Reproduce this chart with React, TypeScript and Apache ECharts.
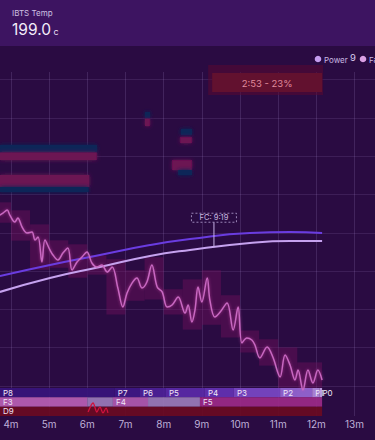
import React, { useEffect, useRef } from "react";
import * as echarts from "echarts";

// ---------- data ----------
const xTicks = [4, 5, 6, 7, 8, 9, 10, 11, 12, 13];
const yTicks = [0, 25, 50, 75, 100, 125, 150, 175, 200];
const X_MIN = 3.712;
const X_MAX = 13.536;
const Y_MIN = -19.6;
const Y_MAX = 205;

// smooth upper (blue-violet) curve
const envTimes = [3.71, 5.02, 6.33, 7.64, 8.69, 10.26, 11.31, 12.15];
const envValues = [71.8, 79.0, 85.5, 92.0, 95.9, 99.9, 100.5, 99.9];
// smooth lower (lavender) curve
const beanTimes = [3.71, 5.02, 6.33, 7.64, 8.69, 10.26, 11.31, 12.15];
const beanValues = [61.4, 70.5, 77.7, 84.9, 88.8, 93.3, 94.6, 94.6];
// jagged pink curve
const rorTimes = [3.71, 3.79, 3.9, 3.97, 4.1, 4.18, 4.29, 4.42, 4.55, 4.63, 4.71, 4.81, 4.89, 5.02, 5.1, 5.23, 5.36, 5.49, 5.6, 5.73, 5.86, 5.99, 6.12, 6.25, 6.38, 6.52, 6.65, 6.8, 6.93, 7.04, 7.17, 7.3, 7.43, 7.56, 7.69, 7.83, 7.96, 8.09, 8.22, 8.38, 8.56, 8.64, 8.74, 8.82, 8.9, 9.0, 9.14, 9.21, 9.34, 9.48, 9.66, 9.82, 9.95, 10.05, 10.18, 10.31, 10.39, 10.52, 10.71, 10.86, 11.05, 11.18, 11.31, 11.44, 11.52, 11.65, 11.78, 11.91, 12.04, 12.15];
const rorValues = [111.6, 112.9, 114.9, 111.6, 107.0, 109.7, 103.8, 99.9, 100.5, 95.3, 97.3, 80.9, 95.3, 88.8, 85.5, 82.2, 86.8, 90.1, 75.7, 80.9, 84.2, 87.5, 80.3, 77.7, 79.0, 74.4, 77.7, 64.0, 51.6, 60.7, 67.2, 70.5, 64.0, 67.9, 79.0, 64.6, 61.4, 51.6, 52.9, 58.1, 47.6, 52.9, 41.8, 49.6, 64.6, 54.8, 70.5, 56.1, 45.0, 48.3, 54.2, 36.6, 51.6, 28.1, 31.3, 30.0, 26.8, 18.3, 25.5, 18.9, 5.9, 20.2, 13.7, 3.9, 10.4, -2.6, 10.4, 2.0, 10.4, 3.9];
// short red trace near the drum row
const redTimes = [6.02, 6.15, 6.25, 6.33, 6.41, 6.49, 6.54];
const redValues = [-17.0, -11.1, -17.0, -13.7, -17.6, -14.4, -17.6];

// first crack
const fcTime = 9.317;
const fcLabel = "FC: 9:19";
// development window
const devStart = 9.27;
const devEnd = 12.15;
const devLabel = "2:53 - 23%";

// blurred stripes: [start, end, top, bottom, kind]
const stripeStarts = [3.712, 3.712, 3.712, 3.712, 7.51, 7.51, 8.45, 8.43, 8.22, 8.38];
const stripeEnds = [6.25, 6.25, 6.05, 6.03, 7.64, 7.64, 8.74, 8.74, 8.74, 8.74];
const stripeTops = [157.3, 152.4, 137.7, 129.9, 178.9, 174.5, 167.8, 162.5, 147.5, 141.0];
const stripeBottoms = [152.4, 147.5, 129.9, 126.6, 174.9, 169.7, 163.8, 158.6, 141.0, 137.7];
const stripeKinds = ["teal", "mag", "mag", "teal", "teal", "mag", "teal", "mag", "mag", "teal"];

// phase rows
const phaseRows = ["P", "F", "D"];
const bandLabels = ["P8", "P7", "P6", "P5", "P4", "P3", "P2", "P1", "P0", "F3", "", "F4", "", "F5", "D9"];
const bandRows = [0, 0, 0, 0, 0, 0, 0, 0, 0, 1, 1, 1, 1, 1, 2];
const bandStarts = [3.712, 6.72, 7.38, 8.06, 9.08, 9.84, 11.05, 11.89, 12.08, 3.712, 6.0, 6.67, 7.59, 8.95, 3.712];
const bandEnds = [6.72, 7.38, 8.06, 9.08, 9.84, 11.05, 11.89, 12.08, 12.15, 6.0, 6.67, 7.59, 8.95, 12.15, 12.15];

// legend
const legendNames = ["Power", "Fan"];
const powerLevel = "9";

// header
const headerTitle = "IBTS Temp";
const headerValue = "199.0";
const headerUnit = "c";

// ---------- styles ----------
const FONT = "Inter, 'Noto Sans', sans-serif";
const BG = "#2a0b42";
const HEADER = "#3d1461";
const bandColors: Record<string, string> = {
  P8: "#38157c", P7: "#3e1886", P6: "#4d2298", P5: "#5a2aa8", P4: "#6432b4",
  P3: "#7a48c6", P2: "#9566d4", P1: "#b08ade", P0: "#c4a4e8",
  F3: "#b860b4", "": "#9a7cba", F4: "#b05ab0", F5: "#9c2a88", D9: "#6a0b22",
};
const stripeColors: Record<string, string> = { teal: "#0e2858", mag: "#6c1253" };

function App() {
  const ref = useRef<HTMLDivElement>(null);
  useEffect(() => {
    if (!ref.current) return;
    const chart = echarts.init(ref.current, undefined, { renderer: "svg" });

    const env = envTimes.map((t, i) => [t, envValues[i]]);
    const bean = beanTimes.map((t, i) => [t, beanValues[i]]);
    const ror = rorTimes.map((t, i) => [t, rorValues[i]]);
    const red = redTimes.map((t, i) => [t, redValues[i]]);

    // glow blocks derived from the jagged curve (0.5 min buckets)
    const blocks: number[][] = [];
    for (let b = 3.5; b < 12.2; b += 0.5) {
      const vals = rorTimes
        .map((t, i) => (t >= b && t < b + 0.5 ? rorValues[i] : null))
        .filter((v) => v !== null) as number[];
      if (vals.length) {
        blocks.push([Math.max(b, X_MIN), Math.min(b + 0.5, 12.15), Math.max(...vals) + 5, Math.min(...vals) - 5]);
      }
    }

    const stripes = stripeStarts.map((s, i) => [s, stripeEnds[i], stripeTops[i], stripeBottoms[i], i]);
    const bands = bandStarts.map((s, i) => [s, bandEnds[i], bandRows[i], i]);

    // bean value at FC (linear interpolation of read points)
    let fcVal = beanValues[0];
    for (let i = 0; i < beanTimes.length - 1; i++) {
      if (fcTime >= beanTimes[i] && fcTime <= beanTimes[i + 1]) {
        const f = (fcTime - beanTimes[i]) / (beanTimes[i + 1] - beanTimes[i]);
        fcVal = beanValues[i] + f * (beanValues[i + 1] - beanValues[i]);
      }
    }

    const option: any = {
      animation: false,
      backgroundColor: BG,
      textStyle: { fontFamily: FONT },
      grid: [
        { left: 0, right: 0, top: 72, bottom: 24 },
        { left: 0, right: 0, top: 388, bottom: 24 },
      ],
      xAxis: [
        {
          gridIndex: 0, type: "value", min: X_MIN, max: X_MAX,
          axisLine: { show: false },
          axisTick: { show: false, customValues: xTicks },
          axisLabel: {
            customValues: xTicks, formatter: (v: number) => v + "m",
            color: "#bfb0d8", fontSize: 10, margin: 3, fontFamily: FONT,
          },
          splitLine: { show: true, lineStyle: { color: "rgba(190,160,230,0.17)", width: 1 } },
        },
        { gridIndex: 1, type: "value", min: X_MIN, max: X_MAX, show: false },
      ],
      yAxis: [
        {
          gridIndex: 0, type: "value", min: Y_MIN, max: Y_MAX,
          axisLine: { show: false },
          axisLabel: { show: false },
          axisTick: { show: false, customValues: yTicks },
          splitLine: { show: true, lineStyle: { color: "rgba(190,160,230,0.13)", width: 1 } },
        },
        { gridIndex: 1, type: "category", data: phaseRows, inverse: true, show: false },
      ],
      series: [
        {
          type: "custom", name: "stripes", xAxisIndex: 0, yAxisIndex: 0, z: 1,
          data: stripes,
          renderItem: (params: any, api: any) => {
            const a = api.coord([api.value(0), api.value(2)]);
            const b = api.coord([api.value(1), api.value(3)]);
            const kind = stripeKinds[params.dataIndex];
            return {
              type: "rect",
              shape: { x: a[0], y: a[1], width: b[0] - a[0], height: b[1] - a[1] },
              style: { fill: stripeColors[kind], shadowBlur: 4, shadowColor: stripeColors[kind] },
            };
          },
        },
        {
          type: "custom", name: "devbox", xAxisIndex: 0, yAxisIndex: 0, z: 1, clip: false,
          data: [[devStart, devEnd]],
          renderItem: (params: any, api: any) => {
            const a = api.coord([api.value(0), Y_MAX]);
            const b = api.coord([api.value(1), Y_MAX]);
            return {
              type: "group",
              children: [
                { type: "rect", shape: { x: a[0] - 4, y: a[1] - 7, width: b[0] - a[0] + 5, height: 30 }, style: { fill: "rgba(90,10,50,0.55)" } },
                { type: "rect", shape: { x: a[0], y: a[1] + 1, width: b[0] - a[0], height: 19 }, style: { fill: "#62112f" } },
                {
                  type: "text",
                  style: {
                    text: devLabel, x: (a[0] + b[0]) / 2, y: a[1] + 11, align: "center", verticalAlign: "middle",
                    fill: "#e08a9c", fontSize: 9.5, fontFamily: FONT,
                  },
                },
              ],
            };
          },
        },
        {
          type: "custom", name: "glow", xAxisIndex: 0, yAxisIndex: 0, z: 2,
          data: blocks,
          renderItem: (params: any, api: any) => {
            const a = api.coord([api.value(0), api.value(2)]);
            const b = api.coord([api.value(1), api.value(3)]);
            return {
              type: "rect",
              shape: { x: a[0], y: a[1], width: b[0] - a[0], height: b[1] - a[1] },
              style: { fill: "rgba(120,18,96,0.4)" },
            };
          },
        },
        {
          type: "custom", name: "phases", xAxisIndex: 1, yAxisIndex: 1, z: 3,
          data: bands,
          renderItem: (params: any, api: any) => {
            const s = api.coord([api.value(0), api.value(2)]);
            const e = api.coord([api.value(1), api.value(2)]);
            const h = api.size([0, 1])[1];
            const lab = bandLabels[params.dataIndex];
            return {
              type: "group",
              children: [
                { type: "rect", shape: { x: s[0], y: s[1] - h / 2, width: e[0] - s[0], height: h }, style: { fill: bandColors[lab], opacity: 0.92 } },
                {
                  type: "text",
                  style: {
                    text: lab, x: Math.max(s[0], 0) + 3, y: s[1], verticalAlign: "middle",
                    fill: "#f0e6f8", fontSize: 8, fontFamily: FONT,
                  },
                },
              ],
            };
          },
        },
        {
          type: "line", name: "Env", xAxisIndex: 0, yAxisIndex: 0, z: 4, data: env, smooth: true, symbol: "none",
          lineStyle: { color: "#6a3ce0", width: 2 },
        },
        {
          type: "line", name: "Bean", xAxisIndex: 0, yAxisIndex: 0, z: 4, data: bean, smooth: true, symbol: "none",
          lineStyle: { color: "#c6a2ef", width: 2 },
        },
        {
          type: "line", name: "RoR", xAxisIndex: 0, yAxisIndex: 0, z: 5, data: ror, smooth: 0.35, symbol: "none",
          lineStyle: { color: "#c868c2", width: 1.5, shadowBlur: 3, shadowColor: "rgba(220,80,180,0.6)" },
        },
        {
          type: "line", name: "Drum", xAxisIndex: 0, yAxisIndex: 0, z: 5, data: red, smooth: 0.3, symbol: "none",
          lineStyle: { color: "#d0123e", width: 1.3 },
        },
        {
          type: "custom", name: "fc", xAxisIndex: 0, yAxisIndex: 0, z: 6, clip: false,
          data: [[fcTime, fcVal]],
          renderItem: (params: any, api: any) => {
            const p = api.coord([api.value(0), api.value(1)]);
            const boxBottom = p[1] - 25;
            return {
              type: "group",
              children: [
                { type: "line", shape: { x1: p[0], y1: p[1], x2: p[0], y2: boxBottom }, style: { stroke: "#c8b2e6", lineWidth: 1 } },
                {
                  type: "rect", shape: { x: p[0] - 22.5, y: boxBottom - 9, width: 45, height: 9 },
                  style: { fill: "rgba(42,11,66,0.6)", stroke: "#b9a6d6", lineWidth: 0.8, lineDash: [2, 2] },
                },
                {
                  type: "text",
                  style: {
                    text: fcLabel, x: p[0], y: boxBottom - 4.5, align: "center", verticalAlign: "middle",
                    fill: "#cbbbe0", fontSize: 7.5, fontFamily: FONT,
                  },
                },
              ],
            };
          },
        },
      ],
      graphic: [
        { type: "rect", z: 10, shape: { x: 0, y: 0, width: 375, height: 46 }, style: { fill: HEADER } },
        { type: "text", z: 11, style: { text: headerTitle, x: 12, y: 13, verticalAlign: "middle", fill: "#cfc0e2", fontSize: 8, fontFamily: FONT } },
        { type: "text", z: 11, style: { text: headerValue, x: 12, y: 29.5, verticalAlign: "middle", fill: "#f3ecfa", fontSize: 15.5, fontFamily: FONT } },
        { type: "text", z: 11, style: { text: headerUnit, x: 53.5, y: 31.5, verticalAlign: "middle", fill: "#e6dcf2", fontSize: 9, fontFamily: FONT } },
        { type: "circle", z: 11, shape: { cx: 318, cy: 59, r: 3.3 }, style: { fill: "#c49cee" } },
        { type: "text", z: 11, style: { text: legendNames[0], x: 324, y: 59.5, verticalAlign: "middle", fill: "#c9b9e2", fontSize: 8, fontFamily: FONT } },
        { type: "text", z: 11, style: { text: powerLevel, x: 350, y: 57, verticalAlign: "middle", fill: "#d6c8ec", fontSize: 9.5, fontFamily: FONT } },
        { type: "circle", z: 11, shape: { cx: 363, cy: 59, r: 3.3 }, style: { fill: "#dba0e4" } },
        { type: "text", z: 11, style: { text: legendNames[1], x: 369, y: 59.5, verticalAlign: "middle", fill: "#c9b9e2", fontSize: 8, fontFamily: FONT } },
      ],
    };
    chart.setOption(option);
    return () => chart.dispose();
  }, []);
  return (
    <div
      ref={ref}
      style={{ position: "fixed", left: 0, top: 0, width: 375, height: 440, background: BG }}
    />
  );
}

export default App;
